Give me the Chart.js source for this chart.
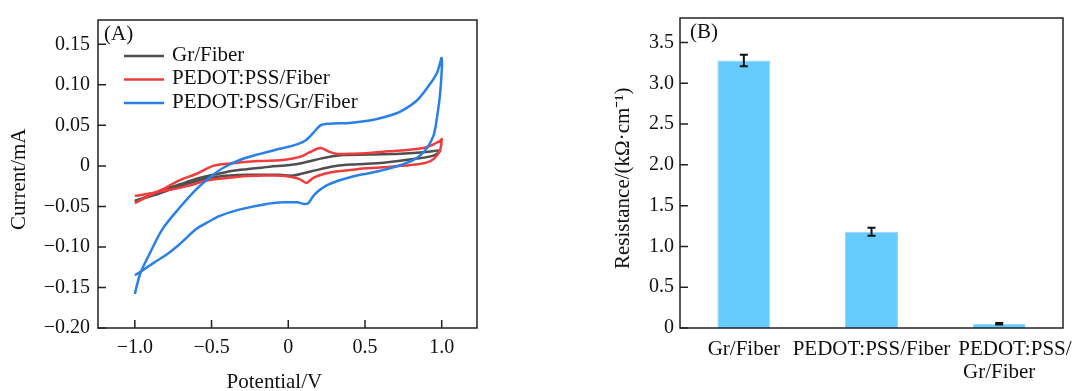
<!DOCTYPE html>
<html>
<head>
<meta charset="utf-8">
<script src="https://cdn.jsdelivr.net/npm/chart.js@4"></script>
<style>
  html, body { margin: 0; padding: 0; background: #fff; overflow: hidden; }
  #wrap { position: relative; width: 1076px; height: 391px; overflow: hidden; }
  canvas { position: absolute; top: 0; }
</style>
</head>
<body>
<div id="wrap">
  <canvas id="cvChart" width="560" height="400" style="left:0"></canvas>
  <canvas id="barChart" width="516" height="400" style="left:560px"></canvas>
</div>
<script>
// (A) cyclic voltammetry loops: potential (V) and current (mA)
const grX = [-1.00, -0.85, -0.71, -0.58, -0.49, -0.36, -0.27, -0.12, 0.01, 0.10, 0.21, 0.29, 0.36, 0.53, 0.73, 0.90, 0.99,
  0.95, 0.84, 0.62, 0.45, 0.31, 0.21, 0.10, 0.03, -0.06, -0.27, -0.45, -0.58, -0.66, -0.84, -1.00];
const grY = [-0.044, -0.032, -0.023, -0.015, -0.011, -0.006, -0.004, -0.001, 0.001, 0.004, 0.009, 0.012, 0.0135, 0.014, 0.015, 0.017, 0.019,
  0.013, 0.009, 0.004, 0.002, 0.000, -0.004, -0.009, -0.012, -0.011, -0.011, -0.013, -0.018, -0.022, -0.034, -0.043];

const pedotX = [-1.00, -0.90, -0.80, -0.70, -0.60, -0.49, -0.38, -0.20, -0.05, 0.03, 0.09, 0.14, 0.21, 0.26, 0.31, 0.42, 0.53, 0.65, 0.79, 0.88, 0.94, 0.99, 1.00,
  0.99, 0.95, 0.90, 0.80, 0.60, 0.45, 0.31, 0.23, 0.16, 0.12, 0.07, 0.00, -0.10, -0.27, -0.40, -0.53, -0.66, -0.84, -1.00];
const pedotY = [-0.046, -0.036, -0.027, -0.017, -0.010, 0.000, 0.003, 0.006, 0.007, 0.009, 0.012, 0.017, 0.022, 0.018, 0.015, 0.015, 0.016, 0.018, 0.020, 0.022, 0.026, 0.031, 0.033,
  0.020, 0.009, 0.004, 0.001, -0.002, -0.004, -0.007, -0.010, -0.015, -0.021, -0.016, -0.013, -0.012, -0.0125, -0.015, -0.018, -0.025, -0.032, -0.037];

const pedotGrX = [-1.00, -0.965, -0.90, -0.82, -0.71, -0.60, -0.51, -0.42, -0.32, -0.20, -0.08, 0.03, 0.11, 0.16, 0.21, 0.27, 0.40, 0.53, 0.64, 0.73, 0.84, 0.92, 0.97, 1.00,
  0.99, 0.967, 0.946, 0.90, 0.84, 0.75, 0.60, 0.50, 0.42, 0.33, 0.25, 0.19, 0.16, 0.13, 0.10, 0.06, -0.03, -0.14, -0.32, -0.45, -0.51, -0.60, -0.71, -0.79, -0.88, -0.95, -1.00];
const pedotGrY = [-0.158, -0.133, -0.107, -0.078, -0.052, -0.029, -0.014, -0.002, 0.007, 0.014, 0.020, 0.025, 0.031, 0.040, 0.050, 0.052, 0.053, 0.056, 0.061, 0.067, 0.081, 0.100, 0.115, 0.133,
  0.090, 0.057, 0.037, 0.021, 0.010, 0.002, -0.006, -0.010, -0.013, -0.018, -0.024, -0.032, -0.038, -0.046, -0.047, -0.045, -0.045, -0.047, -0.054, -0.062, -0.068, -0.078, -0.097, -0.109, -0.120, -0.129, -0.135];

const cvTicksX = [-1.0, -0.5, 0, 0.5, 1.0];
const cvTicksY = [-0.20, -0.15, -0.10, -0.05, 0, 0.05, 0.10, 0.15];

// (B) resistance per length with error bars
const barLabels = ['Gr/Fiber', 'PEDOT:PSS/Fiber', ['      PEDOT:PSS/', 'Gr/Fiber']];
const resistance = [3.28, 1.18, 0.052];
const resistanceErr = [0.07, 0.05, 0.008];
const barTicksY = [0, 0.5, 1.0, 1.5, 2.0, 2.5, 3.0, 3.5];

const serif = "'Liberation Serif', 'Times New Roman', serif";
const ink = '#111';
Chart.defaults.font.family = serif;
Chart.defaults.color = ink;

const minus = s => s.replace('-', '\u2212');
const fmt = digits => v => (v === 0 ? '0' : minus(Number(v).toFixed(digits)));
const pts = (xs, ys) => xs.map((x, i) => ({ x: x, y: ys[i] }));

// box around the plot, inward ticks, panel tag
const frame = {
  id: 'frame',
  afterDraw(chart, args, opts) {
    const { ctx, chartArea: a } = chart;
    ctx.save();
    ctx.strokeStyle = '#222';
    ctx.lineWidth = 1.5;
    ctx.strokeRect(a.left, a.top, a.right - a.left, a.bottom - a.top);
    ctx.beginPath();
    (opts.inward || []).forEach(id => {
      const s = chart.scales[id];
      s.ticks.forEach(t => {
        const p = s.getPixelForValue(t.value);
        if (s.isHorizontal()) { ctx.moveTo(p, a.bottom); ctx.lineTo(p, a.bottom - 8); }
        else { ctx.moveTo(a.left, p); ctx.lineTo(a.left + 8, p); }
      });
    });
    ctx.stroke();
    ctx.fillStyle = ink;
    ctx.font = '21px ' + serif;
    ctx.textBaseline = 'middle';
    ctx.fillText(opts.tag, a.left + opts.tagDx, a.top + 14);
    ctx.restore();
  }
};

const lineLegend = {
  id: 'lineLegend',
  afterDraw(chart) {
    const { ctx, chartArea: a } = chart;
    ctx.save();
    ctx.font = '21px ' + serif;
    ctx.textBaseline = 'middle';
    ctx.fillStyle = ink;
    chart.data.datasets.forEach((ds, i) => {
      const yy = a.top + 35 + i * 23.5;
      ctx.strokeStyle = ds.borderColor;
      ctx.lineWidth = 2.6;
      ctx.beginPath();
      ctx.moveTo(a.left + 26, yy + 1);
      ctx.lineTo(a.left + 66, yy + 1);
      ctx.stroke();
      ctx.fillText(ds.label, a.left + 74, yy);
    });
    ctx.restore();
  }
};

const errorBars = {
  id: 'errorBars',
  afterDatasetsDraw(chart) {
    const { ctx, scales: { y } } = chart;
    const meta = chart.getDatasetMeta(0);
    ctx.save();
    ctx.strokeStyle = ink;
    ctx.lineWidth = 2;
    meta.data.forEach((bar, i) => {
      const top = y.getPixelForValue(resistance[i] + resistanceErr[i]);
      const bot = y.getPixelForValue(resistance[i] - resistanceErr[i]);
      ctx.beginPath();
      ctx.moveTo(bar.x, top); ctx.lineTo(bar.x, bot);
      ctx.moveTo(bar.x - 4, top); ctx.lineTo(bar.x + 4, top);
      ctx.moveTo(bar.x - 4, bot); ctx.lineTo(bar.x + 4, bot);
      ctx.stroke();
    });
    ctx.restore();
  }
};

const lineStyle = { showLine: true, pointRadius: 0, borderWidth: 2.5, tension: 0.3, fill: false };

new Chart(document.getElementById('cvChart'), {
  type: 'scatter',
  data: {
    datasets: [
      { label: 'Gr/Fiber', data: pts(grX, grY), borderColor: '#4f4f4f', order: 3, ...lineStyle },
      { label: 'PEDOT:PSS/Fiber', data: pts(pedotX, pedotY), borderColor: '#f03c3c', order: 2, ...lineStyle },
      { label: 'PEDOT:PSS/Gr/Fiber', data: pts(pedotGrX, pedotGrY), borderColor: '#2a80e6', order: 1, ...lineStyle }
    ]
  },
  options: {
    responsive: false,
    animation: false,
    layout: { padding: { top: 15, right: 83, left: 0, bottom: 0 } },
    plugins: {
      legend: { display: false },
      tooltip: { enabled: false },
      frame: { inward: ['x', 'y'], tag: '(A)', tagDx: 6 }
    },
    scales: {
      x: {
        type: 'linear', min: -1.24, max: 1.23,
        afterBuildTicks: s => { s.ticks = cvTicksX.map(v => ({ value: v })); },
        afterFit: s => { s.height = 72; s.paddingLeft = 0; s.paddingRight = 0; },
        grid: { display: false, drawTicks: false },
        border: { display: false },
        ticks: { padding: 8, autoSkip: false, maxRotation: 0, font: { size: 20 }, color: ink, callback: fmt(1) },
        title: { display: true, text: 'Potential/V     ', font: { size: 21 }, color: ink, padding: { top: 0, bottom: 5 } }
      },
      y: {
        min: -0.20, max: 0.18,
        afterBuildTicks: s => { s.ticks = cvTicksY.map(v => ({ value: v })); },
        afterFit: s => { s.width = 98; },
        grid: { display: false, drawTicks: false },
        border: { display: false },
        ticks: { padding: 8, font: { size: 20 }, color: ink, callback: fmt(2) },
        title: { display: true, text: 'Current/mA  ', font: { size: 21 }, color: ink, padding: { top: 7, bottom: 0 } }
      }
    }
  },
  plugins: [frame, lineLegend]
});

new Chart(document.getElementById('barChart'), {
  type: 'bar',
  data: {
    labels: barLabels,
    datasets: [{
      label: 'Resistance',
      data: resistance,
      backgroundColor: '#66ccff',
      borderColor: '#8fdaff',
      borderWidth: 1,
      barPercentage: 0.415,
      categoryPercentage: 1
    }]
  },
  options: {
    responsive: false,
    animation: false,
    layout: { padding: { top: 15, right: 13, left: 0, bottom: 0 } },
    plugins: {
      legend: { display: false },
      tooltip: { enabled: false },
      frame: { inward: ['y'], tag: '(B)', tagDx: 10 }
    },
    scales: {
      x: {
        afterFit: s => { s.height = 72; s.paddingLeft = 0; s.paddingRight = 0; },
        grid: { display: false, drawTicks: false },
        border: { display: false },
        ticks: { padding: 10, autoSkip: false, maxRotation: 0, font: { size: 21, lineHeight: 1.1 }, color: ink }
      },
      y: {
        min: 0, max: 3.8,
        afterBuildTicks: s => { s.ticks = barTicksY.map(v => ({ value: v })); },
        afterFit: s => { s.width = 120; },
        grid: { display: false, drawTicks: false },
        border: { display: false },
        ticks: { padding: 6, font: { size: 20 }, color: ink, callback: fmt(1) },
        title: { display: true, text: 'Resistance/(k\u03a9\u00b7cm\u207b\u00b9)  ', font: { size: 21 }, color: ink, padding: { top: 51, bottom: 0 } }
      }
    }
  },
  plugins: [frame, errorBars]
});
</script>
</body>
</html>
